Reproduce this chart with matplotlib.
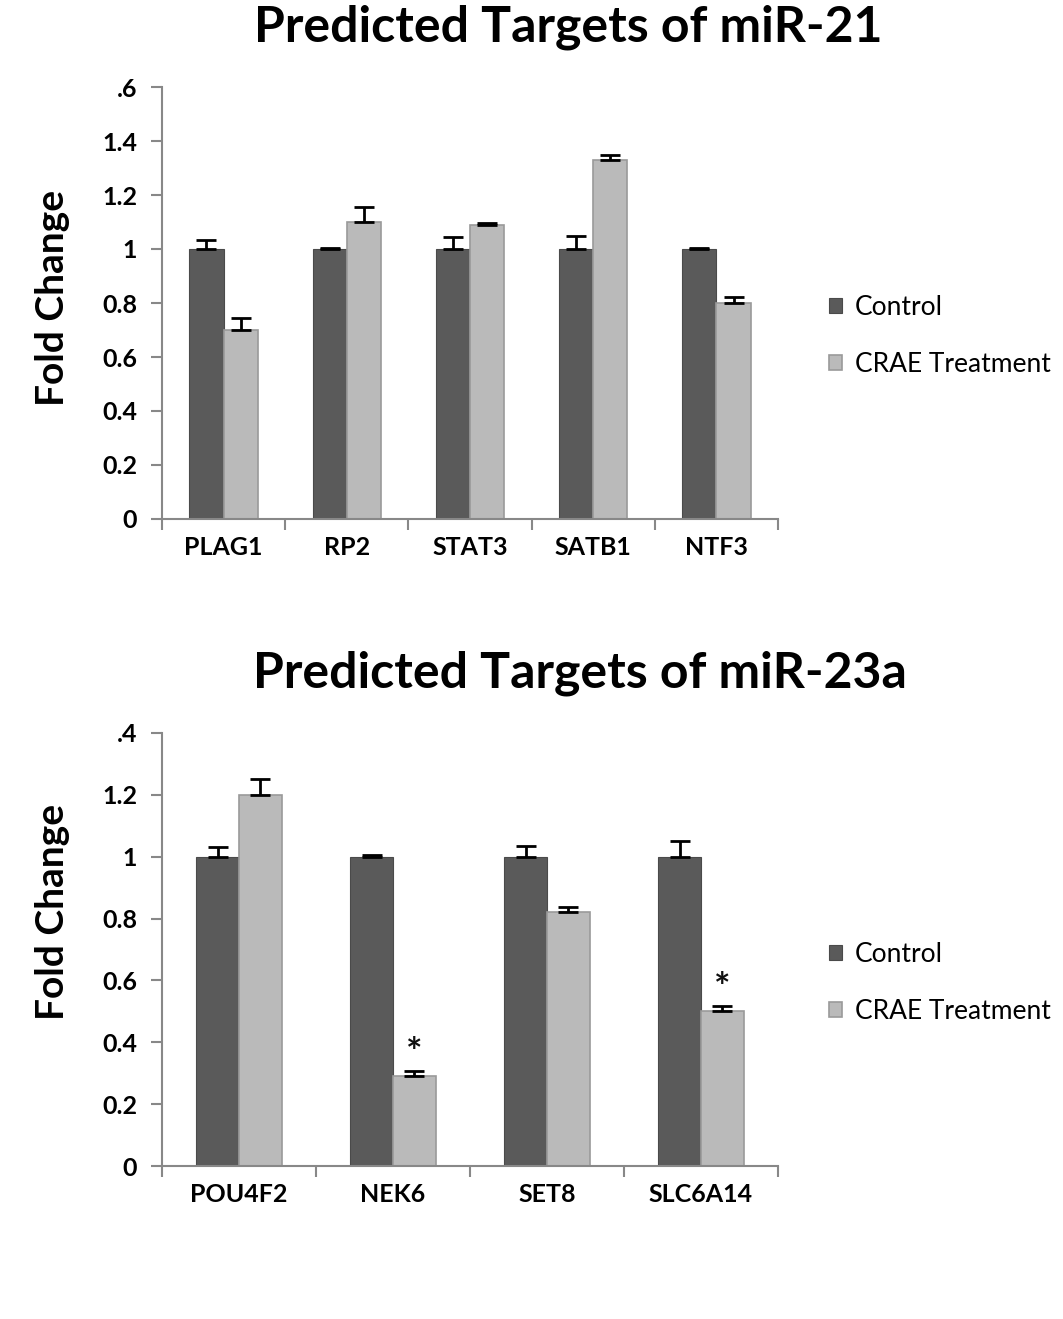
import matplotlib
matplotlib.use("Agg")
import matplotlib.pyplot as plt
import numpy as np

plt.rcParams['font.family'] = ['Lato', 'DejaVu Sans']

# ---- Data ----
genes_21 = ["PLAG1", "RP2", "STAT3", "SATB1", "NTF3"]
ctrl_21 = [1.0, 1.0, 1.0, 1.0, 1.0]
ctrl_err_21 = [0.033, 0.005, 0.044, 0.05, 0.004]
crae_21 = [0.70, 1.10, 1.09, 1.33, 0.80]
crae_err_21 = [0.045, 0.055, 0.006, 0.018, 0.024]
yticks_21 = [0, 0.2, 0.4, 0.6, 0.8, 1.0, 1.2, 1.4, 1.6]
ylabels_21 = ["0", "0.2", "0.4", "0.6", "0.8", "1", "1.2", "1.4", ".6"]

genes_23 = ["POU4F2", "NEK6", "SET8", "SLC6A14"]
ctrl_23 = [1.0, 1.0, 1.0, 1.0]
ctrl_err_23 = [0.03, 0.005, 0.036, 0.05]
crae_23 = [1.20, 0.29, 0.82, 0.50]
crae_err_23 = [0.052, 0.016, 0.016, 0.016]
sig_23 = [False, True, False, True]
yticks_23 = [0, 0.2, 0.4, 0.6, 0.8, 1.0, 1.2, 1.4]
ylabels_23 = ["0", "0.2", "0.4", "0.6", "0.8", "1", "1.2", ".4"]

series_names = ["Control", "CRAE Treatment"]
c_ctrl = "#5a5a5a"
c_crae = "#bababa"

W, H = 1063, 1319
fig = plt.figure(figsize=(W / 100, H / 100), dpi=100)

def px_axes(left, top, right, bottom):
    return fig.add_axes([left / W, 1 - bottom / H, (right - left) / W, (bottom - top) / H])

def draw(ax, genes, ctrl, cerr, crae, rerr, yticks, ylabels, ymax, legend_y, ylabel_y, sig=None):
    n = len(genes)
    x = np.arange(n)
    w = 1 / 3.6
    err_kw = dict(ecolor="black", elinewidth=2, capsize=7, capthick=2)
    ax.bar(x - w / 2, ctrl, w, color=c_ctrl, edgecolor="#4a4a4a", linewidth=0.8,
           yerr=[np.zeros(n), cerr], error_kw=err_kw, label=series_names[0])
    ax.bar(x + w / 2, crae, w, color=c_crae, edgecolor="#9a9a9a", linewidth=1.2,
           yerr=[np.zeros(n), rerr], error_kw=err_kw, label=series_names[1])
    if sig is not None:
        for i, s in enumerate(sig):
            if s:
                ax.text(x[i] + w / 2, crae[i] + rerr[i] + 0.0, "*", ha="center", va="bottom",
                        fontsize=28, fontweight="bold", color="#111111")
    ax.set_xlim(-0.5, n - 0.5)
    ax.set_ylim(0, ymax)
    ax.set_yticks(yticks)
    ax.set_yticklabels(ylabels, fontsize=18, fontweight="bold")
    ax.set_xticks(x)
    ax.set_xticklabels(genes, fontsize=18, fontweight="bold")
    ax.set_xticks(np.arange(n + 1) - 0.5, minor=True)
    ax.tick_params(axis="x", which="major", length=0, pad=12)
    ax.tick_params(axis="x", which="minor", length=8, color="#888888", width=1.5)
    ax.tick_params(axis="y", length=8, color="#888888", width=1.5, pad=10)
    for s in ["top", "right"]:
        ax.spines[s].set_visible(False)
    for s in ["left", "bottom"]:
        ax.spines[s].set_color("#888888")
        ax.spines[s].set_linewidth(1.5)
    fig.text(53 / W, 1 - ylabel_y / H, "Fold Change", rotation=90, ha="center", va="center",
             fontsize=28, fontweight="bold")
    ax.legend(loc="center left", bbox_to_anchor=(818 / W, 1 - legend_y / H),
              bbox_transform=fig.transFigure, frameon=False,
              fontsize=19, handlelength=0.5, handleheight=0.5, handletextpad=0.5,
              labelspacing=1.2, borderaxespad=0)

ax1 = px_axes(162, 87, 778, 519)
draw(ax1, genes_21, ctrl_21, ctrl_err_21, crae_21, crae_err_21, yticks_21, ylabels_21, 1.6,
     336, 298)
ax2 = px_axes(162, 733, 778, 1166)
draw(ax2, genes_23, ctrl_23, ctrl_err_23, crae_23, crae_err_23, yticks_23, ylabels_23, 1.4,
     983, 912, sig_23)

fig.text(568 / W, 1 - 27 / H, "Predicted Targets of miR-21", ha="center", va="center",
         fontsize=36, fontweight="bold")
fig.text(580 / W, 1 - 673 / H, "Predicted Targets of miR-23a", ha="center", va="center",
         fontsize=36, fontweight="bold")

fig.savefig("out.png", dpi=100, facecolor="white")
